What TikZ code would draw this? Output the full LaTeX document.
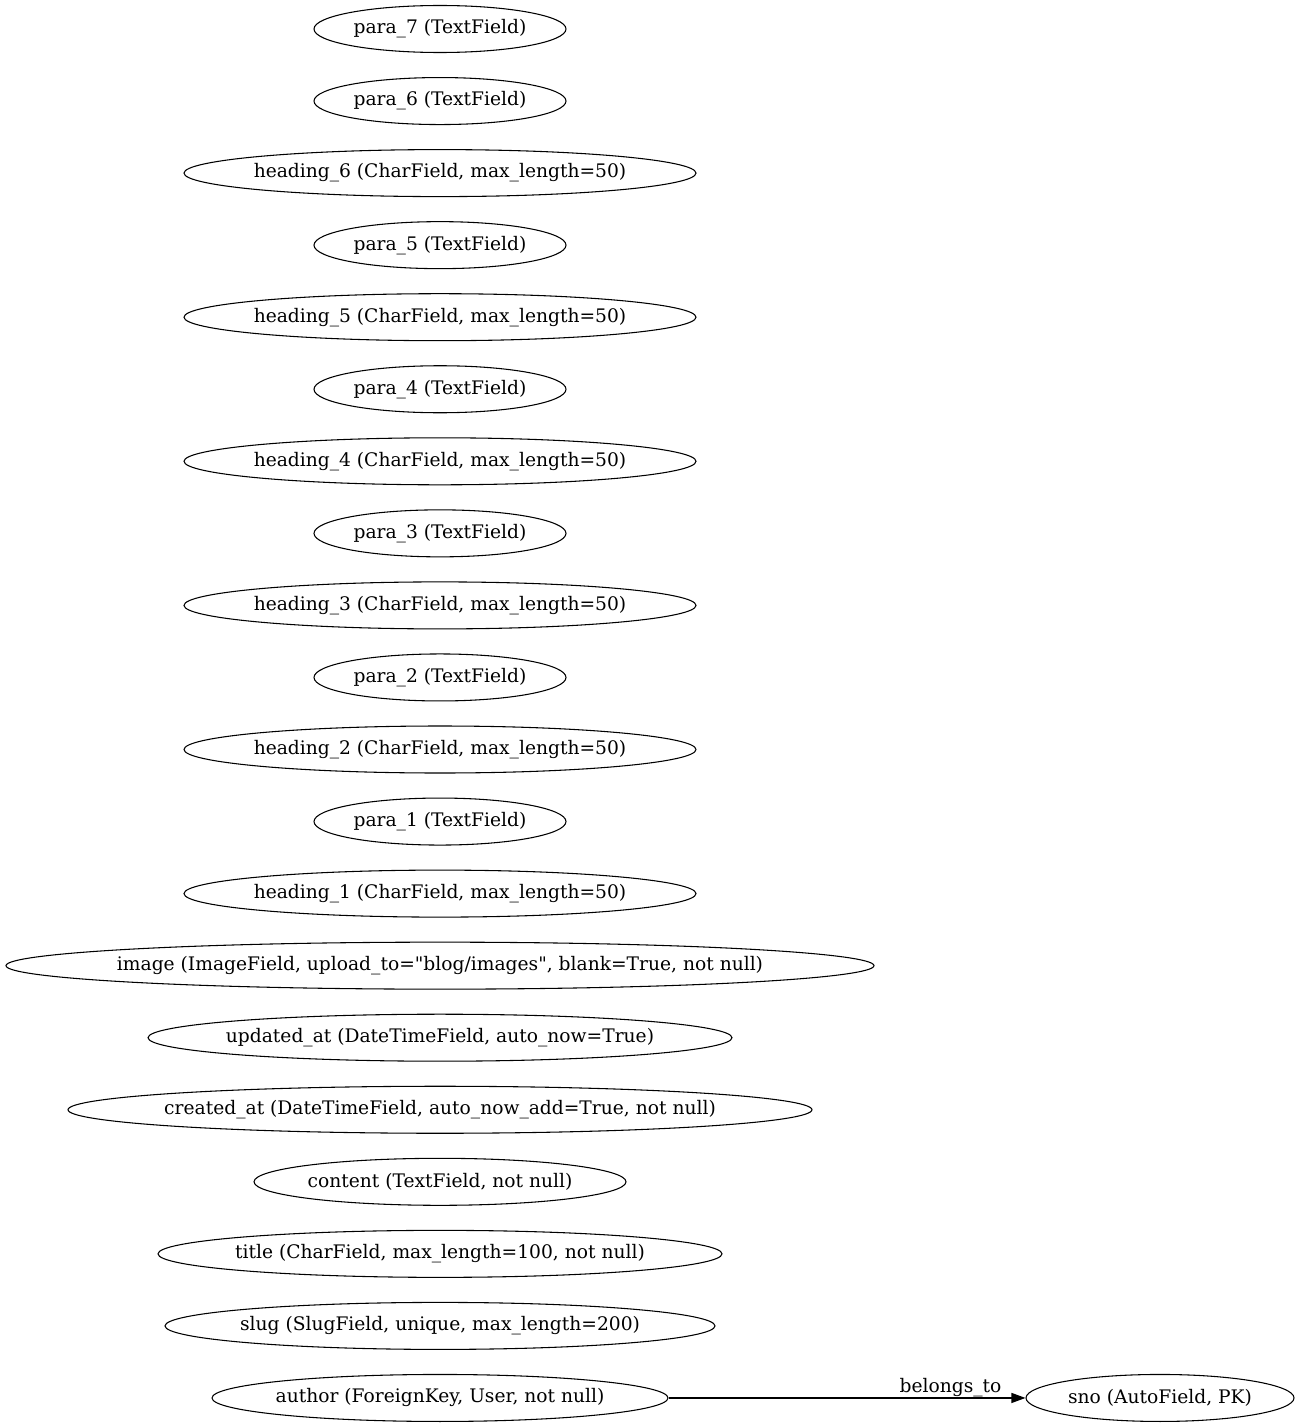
\documentclass[tikz,border=0pt]{standalone}
\usepackage{fontspec}
\newfontfamily\dvs{DejaVu Serif}
\usetikzlibrary{shapes.geometric,arrows.meta}
\newcommand\fldtxt[1]{\makebox[0pt][c]{#1}}
\begin{document}
\begin{tikzpicture}[x=0.75pt,y=-0.75pt,
  field/.style={draw,ellipse,inner sep=0pt,minimum height=35.25pt,line width=0.8pt,font=\dvs\fontsize{14}{16}\selectfont},
  lbl/.style={inner sep=0pt,font=\dvs\fontsize{14}{16}\selectfont},
  rel/.style={-{Triangle[length=10.5pt,width=7.5pt]},line width=0.8pt}]
\useasboundingbox (0,0) rectangle (1300,1427);
\def\rowy#1{29+72.05*#1}
\node[field,minimum width=189pt] (p7) at (440,{\rowy{0}}) {\fldtxt{para\_7 (TextField)}};
\node[field,minimum width=189pt] (p6) at (440,{\rowy{1}}) {\fldtxt{para\_6 (TextField)}};
\node[field,minimum width=384pt] (h6) at (440,{\rowy{2}}) {\fldtxt{heading\_6 (CharField, max\_length=50)}};
\node[field,minimum width=189pt] (p5) at (440,{\rowy{3}}) {\fldtxt{para\_5 (TextField)}};
\node[field,minimum width=384pt] (h5) at (440,{\rowy{4}}) {\fldtxt{heading\_5 (CharField, max\_length=50)}};
\node[field,minimum width=189pt] (p4) at (440,{\rowy{5}}) {\fldtxt{para\_4 (TextField)}};
\node[field,minimum width=384pt] (h4) at (440,{\rowy{6}}) {\fldtxt{heading\_4 (CharField, max\_length=50)}};
\node[field,minimum width=189pt] (p3) at (440,{\rowy{7}}) {\fldtxt{para\_3 (TextField)}};
\node[field,minimum width=384pt] (h3) at (440,{\rowy{8}}) {\fldtxt{heading\_3 (CharField, max\_length=50)}};
\node[field,minimum width=189pt] (p2) at (440,{\rowy{9}}) {\fldtxt{para\_2 (TextField)}};
\node[field,minimum width=384pt] (h2) at (440,{\rowy{10}}) {\fldtxt{heading\_2 (CharField, max\_length=50)}};
\node[field,minimum width=189pt] (p1) at (440,{\rowy{11}}) {\fldtxt{para\_1 (TextField)}};
\node[field,minimum width=384pt] (h1) at (440,{\rowy{12}}) {\fldtxt{heading\_1 (CharField, max\_length=50)}};
\node[field,minimum width=651pt] (img) at (440,{\rowy{13}}) {\fldtxt{image (ImageField, upload\_to="blog/images", blank=True, not null)}};
\node[field,minimum width=438pt] (upd) at (440,{\rowy{14}}) {\fldtxt{updated\_at (DateTimeField, auto\_now=True)}};
\node[field,minimum width=558pt] (cre) at (440,{\rowy{15}}) {\fldtxt{created\_at (DateTimeField, auto\_now\_add=True, not null)}};
\node[field,minimum width=279pt] (con) at (440,{\rowy{16}}) {\fldtxt{content (TextField, not null)}};
\node[field,minimum width=423pt] (tit) at (440,{\rowy{17}}) {\fldtxt{title (CharField, max\_length=100, not null)}};
\node[field,minimum width=412.5pt] (slug) at (440,{\rowy{18}}) {\fldtxt{slug (SlugField, unique, max\_length=200)}};
\node[field,minimum width=342pt] (auth) at (440,{\rowy{19}}) {\fldtxt{author (ForeignKey, User, not null)}};
\node[field,minimum width=201pt] (sno) at (1160,{\rowy{19}}) {\fldtxt{sno (AutoField, PK)}};
\draw[rel] (auth) -- node[lbl,above=0.5pt,pos=0.79] (bl) {belongs\_to} (sno);
\end{tikzpicture}
\end{document}
